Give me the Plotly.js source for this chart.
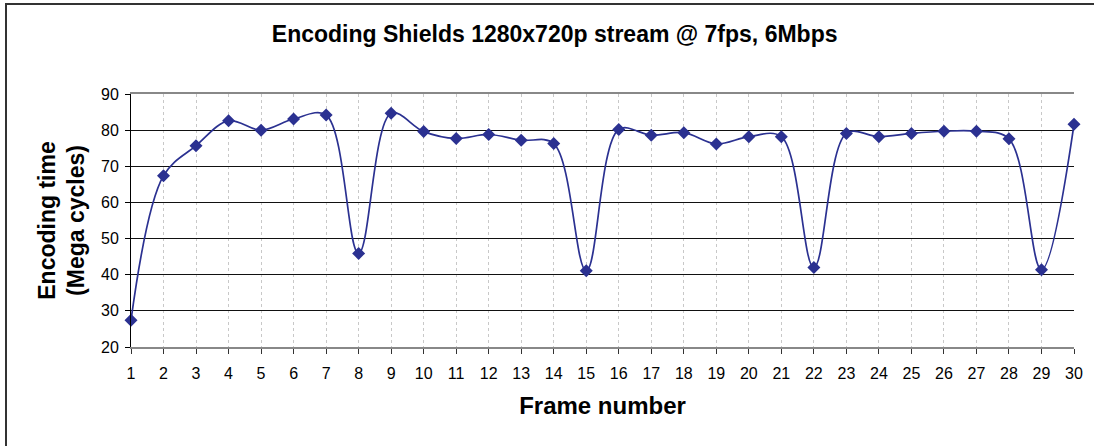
<!DOCTYPE html>
<html>
<head>
<meta charset="utf-8">
<script src="https://cdn.plot.ly/plotly-3.0.1.min.js"></script>
<style>
  html, body { margin: 0; padding: 0; background: #fff; }
  #wrap { position: relative; width: 1094px; height: 446px; overflow: hidden; }
  #chart { width: 1094px; height: 446px; }
  #frame { position: absolute; left: 5px; top: 3px; right: -10px; bottom: -10px;
           border-top: 2px solid #333; border-left: 2px solid #333; pointer-events: none; }
</style>
</head>
<body>
<div id="wrap">
  <div id="chart"></div>
  <div id="frame"></div>
</div>
<script>
const frames = [1,2,3,4,5,6,7,8,9,10,11,12,13,14,15,16,17,18,19,20,21,22,23,24,25,26,27,28,29,30];
const encodingTime = [27.4,67.4,75.7,82.6,80.0,83.1,84.2,45.9,84.7,79.6,
                      77.7,78.8,77.2,76.3,41.1,80.2,78.6,79.3,76.2,78.2,
                      78.2,42.0,79.1,78.2,79.1,79.7,79.7,77.6,41.4,81.6];
const yTicks = [20,30,40,50,60,70,80,90];

const navy = '#2B3191';
const font = 'Liberation Sans, Arial, sans-serif';

const trace = {
  x: frames,
  y: encodingTime,
  type: 'scatter',
  mode: 'lines+markers',
  line: { color: navy, width: 1.7, shape: 'spline', smoothing: 1 },
  marker: { symbol: 'diamond', size: 10, color: navy },
  cliponaxis: false,
  hoverinfo: 'x+y'
};

const layout = {
  width: 1094,
  height: 446,
  margin: { l: 131, r: 20, t: 94, b: 99 },
  paper_bgcolor: '#fff',
  plot_bgcolor: '#fff',
  showlegend: false,
  font: { family: font, color: '#000', size: 16 },
  title: {
    text: 'Encoding Shields 1280x720p stream @ 7fps, 6Mbps',
    font: { family: font, size: 23, color: '#000', weight: 'bold' },
    x: 0.507, xanchor: 'center', y: 0.925, yanchor: 'middle'
  },
  xaxis: {
    range: [1, 30],
    tickvals: frames,
    ticktext: frames.map(String),
    tickfont: { family: font, size: 16 },
    ticks: 'outside', ticklen: 5, tickcolor: '#333', tickwidth: 1,
    ticklabelstandoff: 6,
    showline: true, linecolor: '#888', linewidth: 2, mirror: true,
    showgrid: true, gridcolor: '#c8c8c8', gridwidth: 1, griddash: 'dot',
    zeroline: false,
    title: { text: 'Frame number', font: { family: font, size: 24, weight: 'bold' }, standoff: 16 },
    automargin: false
  },
  yaxis: {
    range: [20, 90],
    tickvals: yTicks,
    tickfont: { family: font, size: 16 },
    ticks: 'outside', ticklen: 5, tickcolor: '#000', tickwidth: 1,
    ticklabelstandoff: 3,
    showline: true, linecolor: '#000', linewidth: 1,
    showgrid: true, gridcolor: '#111', gridwidth: 1,
    zeroline: false,
    title: { text: 'Encoding time<br>(Mega cycles)', font: { family: font, size: 23, weight: 'bold' }, standoff: 9 },
    automargin: false
  }
};

Plotly.newPlot('chart', [trace], layout, { displayModeBar: false, staticPlot: true });
</script>
</body>
</html>
